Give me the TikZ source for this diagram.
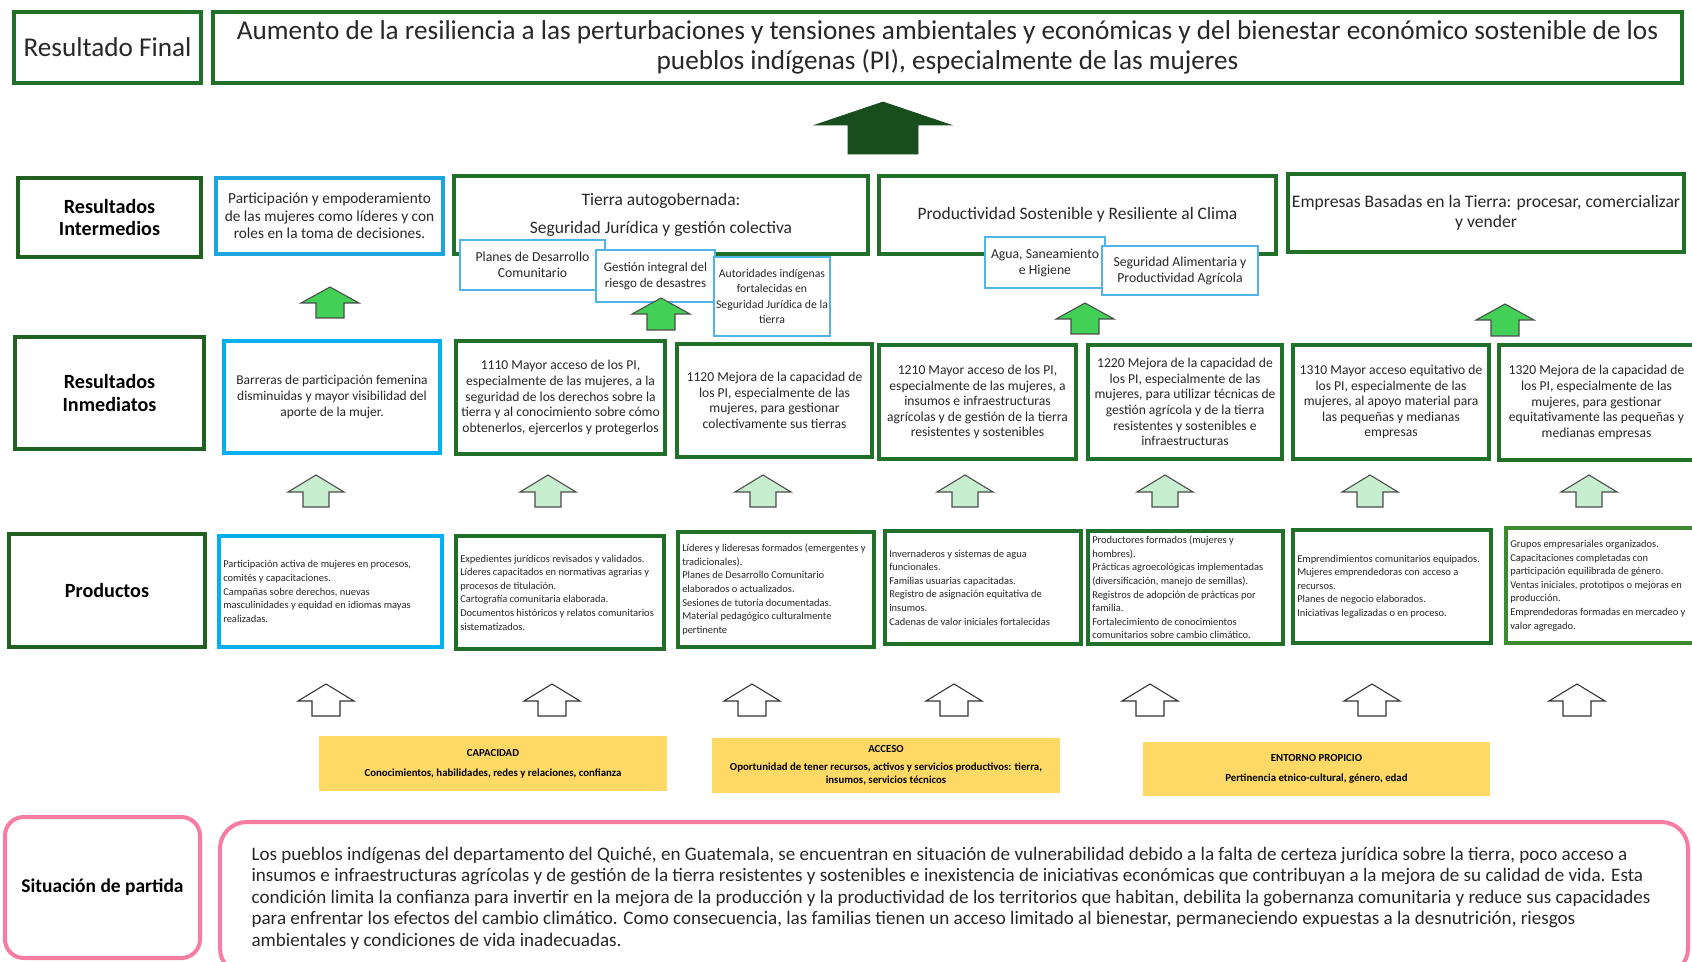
\documentclass[tikz,border=0pt]{standalone}
\usepackage{fontspec}
\setmainfont{Carlito}
\definecolor{dgreen}{RGB}{33,112,42}
\definecolor{lgreen}{RGB}{34,96,32}
\definecolor{blueA}{RGB}{28,165,222}
\definecolor{blueB}{RGB}{0,176,240}
\definecolor{sblue}{RGB}{80,180,230}
\definecolor{brightg}{RGB}{66,208,86}
\definecolor{paleg}{RGB}{200,238,208}
\definecolor{darkarr}{RGB}{24,78,30}
\definecolor{yell}{RGB}{255,217,102}
\definecolor{pinkc}{RGB}{246,124,162}
\definecolor{midgreen}{RGB}{62,138,46}
\definecolor{txt}{RGB}{40,40,40}
\newcommand\bx[7]{\node[#2, minimum width={(#5-#3)*0.75pt}, minimum height={(#6-#4)*0.75pt}] (#1) at ({(#3+#5)/2},{(#4+#6)/2}) {#7};}
\newcommand\pbx[7]{\node[#2, minimum width={(#5-#3)*0.75pt}, minimum height={(#6-#4)*0.75pt}] (#1) at ({(#3+#5)/2},{(#4+#6)/2}) {};
  \node[prodtext, anchor=west] (#1t) at ({#3+4},{(#4+#6)/2}) {#7};}
\newcommand\uarrow[7]{\draw[#1] ({#2-#7},#5) -- ({#2-#7},#4) -- ({#2-#6},#4) -- (#2,#3) -- ({#2+#6},#4) -- ({#2+#7},#4) -- ({#2+#7},#5) -- cycle;}
\tikzset{
  base/.style={inner sep=1pt, align=center, text=txt},
  topbox/.style={base, draw=dgreen, line width=3pt, fill=white, font=\fontsize{20.4}{22}\selectfont},
  lbox/.style={base, draw=lgreen, line width=3.6pt, fill=white, text=black, font=\fontsize{15.1}{17}\selectfont\bfseries},
  ibox/.style={base, draw=dgreen, line width=3.2pt, fill=white},
  gbox/.style={base, draw=dgreen, line width=3.2pt, fill=white, font=\fontsize{10.2}{11.7}\selectfont},
  bbox/.style={base, draw=blueB, line width=3pt, fill=white},
  sbox/.style={base, inner sep=0pt, draw=sblue, line width=1.6pt, fill=white, font=\fontsize{10.3}{12}\selectfont},
  prod/.style={base, line width=3pt, fill=white},
  prodtext/.style={base, align=left, inner sep=0pt, font=\fontsize{7.85}{10.2}\selectfont},
  ybox/.style={base, fill=yell, text=black, font=\fontsize{8.1}{10}\selectfont\bfseries},
  pbox/.style={base, draw=pinkc, line width=3pt, rounded corners=14pt, fill=white},
  garr/.style={fill=brightg, draw=black!70, line width=0.8pt},
  parr/.style={fill=paleg, draw=black!70, line width=0.8pt},
  warr/.style={fill=white, draw=black!80, line width=0.8pt},
  darr/.style={fill=darkarr, draw=darkarr, line width=0.5pt}
}
\begin{document}
\begin{tikzpicture}[x=0.75pt, y=-0.75pt]
\useasboundingbox[fill=white] (0,0) rectangle (1692,962);
% Resultado final
\bx{rfl}{topbox}{14}{12}{201}{83}{Resultado Final}
\bx{rft}{topbox}{213}{12}{1682}{83}{Aumento de la resiliencia a las perturbaciones y tensiones ambientales y económicas y del bienestar económico sostenible de los\\pueblos indígenas (PI), especialmente de las mujeres}
\uarrow{darr}{883}{102}{125}{154}{68}{35}
% Resultados intermedios
\bx{ril}{lbox}{18}{178}{201}{257}{Resultados\\Intermedios}
\bx{ri1}{bbox, draw=blueA, font=\fontsize{11.5}{13}\selectfont}{216}{178}{443}{254}{Participación y empoderamiento\\de las mujeres como líderes y con\\roles en la toma de decisiones.}
\bx{ri2}{ibox, font=\fontsize{13.1}{21}\selectfont}{454}{176}{868}{254}{Tierra autogobernada:\\Seguridad Jurídica y gestión colectiva}
\bx{ri3}{ibox, font=\fontsize{13.1}{15}\selectfont}{879}{176}{1276}{254}{Productividad Sostenible y Resiliente al Clima}
\bx{ri4}{ibox, font=\fontsize{13.2}{14.8}\selectfont}{1288}{174}{1684}{252}{Empresas Basadas en la Tierra: procesar, comercializar\\y vender}
\bx{s1}{sbox}{460}{240}{605}{290}{Planes de Desarrollo\\Comunitario}
\bx{s2}{sbox, font=\fontsize{9.8}{12}\selectfont}{596}{250}{715}{302}{Gestión integral del\\riesgo de desastres}
\bx{s3}{sbox, font=\fontsize{8.8}{11.6}\selectfont}{714}{257}{830}{336}{Autoridades indígenas\\fortalecidas en\\Seguridad Jurídica de la\\tierra}
\bx{s4}{sbox}{985}{237}{1105}{288}{Agua, Saneamiento\\e Higiene}
\bx{s5}{sbox}{1102}{246}{1258}{295}{Seguridad Alimentaria y\\Productividad Agrícola}
% Resultados inmediatos
\bx{rml}{lbox}{15}{337}{204}{449}{Resultados\\Inmediatos}
\bx{rm0}{bbox, font=\fontsize{10.1}{11.7}\selectfont}{224}{341}{440}{453}{Barreras de participación femenina\\disminuidas y mayor visibilidad del\\aporte de la mujer.}
\bx{rm1}{gbox}{456}{341}{665}{454}{1110 Mayor acceso de los PI,\\especialmente de las mujeres, a la\\seguridad de los derechos sobre la\\tierra y al conocimiento sobre cómo\\obtenerlos, ejercerlos y protegerlos}
\bx{rm2}{gbox}{677}{344}{872}{457}{1120 Mejora de la capacidad de\\los PI, especialmente de las\\mujeres, para gestionar\\colectivamente sus tierras}
\bx{rm3}{gbox}{879}{345}{1076}{459}{1210 Mayor acceso de los PI,\\especialmente de las mujeres, a\\insumos e infraestructuras\\agrícolas y de gestión de la tierra\\resistentes y sostenibles}
\bx{rm4}{gbox}{1088}{345}{1282}{459}{1220 Mejora de la capacidad de\\los PI, especialmente de las\\mujeres, para utilizar técnicas de\\gestión agrícola y de la tierra\\resistentes y sostenibles e\\infraestructuras}
\bx{rm5}{gbox}{1293}{345}{1489}{459}{1310 Mayor acceso equitativo de\\los PI, especialmente de las\\mujeres, al apoyo material para\\las pequeñas y medianas\\empresas}
\bx{rm6}{gbox}{1499}{345}{1694}{460}{1320 Mejora de la capacidad de\\los PI, especialmente de las\\mujeres, para gestionar\\equitativamente las pequeñas y\\medianas empresas}
% Productos
\bx{prl}{lbox}{9}{534}{205}{647}{Productos}
\pbx{p0}{prod, draw=blueB}{219}{536}{442}{647}{Participación activa de mujeres en procesos,\\comités y capacitaciones.\\Campañas sobre derechos, nuevas\\masculinidades y equidad en idiomas mayas\\realizadas.}
\pbx{p1}{prod, draw=dgreen}{456}{536}{664}{649}{Expedientes jurídicos revisados y validados.\\Líderes capacitados en normativas agrarias y\\procesos de titulación.\\Cartografía comunitaria elaborada.\\Documentos históricos y relatos comunitarios\\sistematizados.}
\pbx{p2}{prod, draw=dgreen}{678}{532}{874}{647}{Líderes y lideresas formados (emergentes y\\tradicionales).\\Planes de Desarrollo Comunitario\\elaborados o actualizados.\\Sesiones de tutoría documentadas.\\Material pedagógico culturalmente\\pertinente}
\pbx{p3}{prod, draw=dgreen}{885}{531}{1081}{644}{Invernaderos y sistemas de agua\\funcionales.\\Familias usuarias capacitadas.\\Registro de asignación equitativa de\\insumos.\\Cadenas de valor iniciales fortalecidas}
\pbx{p4}{prod, draw=dgreen}{1088}{531}{1283}{644}{Productores formados (mujeres y\\hombres).\\Prácticas agroecológicas implementadas\\(diversificación, manejo de semillas).\\Registros de adopción de prácticas por\\familia.\\Fortalecimiento de conocimientos\\comunitarios sobre cambio climático.}
\pbx{p5}{prod, draw=dgreen}{1293}{530}{1491}{643}{Emprendimientos comunitarios equipados.\\Mujeres emprendedoras con acceso a\\recursos.\\Planes de negocio elaborados.\\Iniciativas legalizadas o en proceso.}
\pbx{p6}{prod, draw=midgreen}{1506}{528}{1694}{643}{Grupos empresariales organizados.\\Capacitaciones completadas con\\participación equilibrada de género.\\Ventas iniciales, prototipos o mejoras en\\producción.\\Emprendedoras formadas en mercadeo y\\valor agregado.}
% Yellow boxes
\bx{y1}{ybox}{319}{736}{667}{791}{CAPACIDAD\\[5pt]Conocimientos, habilidades, redes y relaciones, confianza}
\bx{y2}{ybox}{712}{738}{1060}{793}{ACCESO\\[3pt]Oportunidad de tener recursos, activos y servicios productivos: tierra,\\insumos, servicios técnicos}
\bx{y3}{ybox}{1143}{742}{1490}{796}{ENTORNO PROPICIO\\[5pt]Pertinencia etnico-cultural, género, edad}
% Situacion de partida
\bx{spl}{pbox, text=black, font=\fontsize{14.6}{17}\selectfont\bfseries}{5}{817}{200}{958}{Situación de partida}
\bx{spt}{pbox, rounded corners=20pt}{220}{822}{1688}{975}{}
\node[base, align=left, anchor=west, font=\fontsize{14.3}{16.1}\selectfont] (sptext) at (250,898) {Los pueblos indígenas del departamento del Quiché, en Guatemala, se encuentran en situación de vulnerabilidad debido a la falta de certeza jurídica sobre la tierra, poco acceso a\\insumos e infraestructuras agrícolas y de gestión de la tierra resistentes y sostenibles e inexistencia de iniciativas económicas que contribuyan a la mejora de su calidad de vida. Esta\\condición limita la confianza para invertir en la mejora de la producción y la productividad de los territorios que habitan, debilita la gobernanza comunitaria y reduce sus capacidades\\para enfrentar los efectos del cambio climático. Como consecuencia, las familias tienen un acceso limitado al bienestar, permaneciendo expuestas a la desnutrición, riesgos\\ambientales y condiciones de vida inadecuadas.};
% Arrows
\uarrow{garr}{330}{287}{303}{318}{29}{14}
\uarrow{garr}{661}{298}{314}{330}{29}{14}
\uarrow{garr}{1085}{303}{319}{334}{29}{14}
\uarrow{garr}{1505}{304}{320}{336}{29}{14}
\foreach \cx in {316,548,763,965,1165,1370,1589}{\uarrow{parr}{\cx}{475}{492}{507}{28}{13}}
\foreach \cx in {326,552,752,954,1150,1372,1577}{\uarrow{warr}{\cx}{684}{701}{716}{28}{14}}
\end{tikzpicture}
\end{document}
